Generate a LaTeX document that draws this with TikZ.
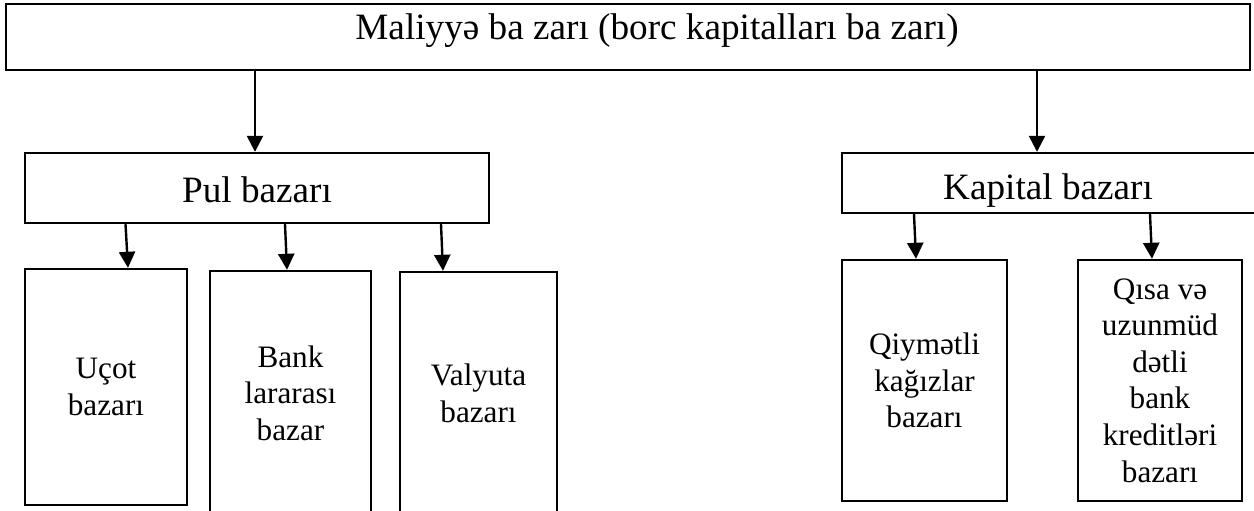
\documentclass[tikz,border=0pt]{standalone}
\usepackage{fontspec}
\setmainfont{Liberation Serif}
\usetikzlibrary{arrows.meta}
\begin{document}
\begin{tikzpicture}[x=0.5pt,y=-0.5pt,
  box/.style={draw, line width=1.2pt, inner sep=0pt},
  headtxt/.style={anchor=base, inner sep=0pt, font=\fontsize{18.6}{22}\selectfont},
  celltxt/.style={align=center, font=\fontsize{15.6}{18.3}\selectfont},
  arr/.style={line width=1.2pt, -{Triangle[length=8pt,width=8pt]}}]
\useasboundingbox (0,0) rectangle (1254,510);
\clip (0,0) rectangle (1254,510);
% boxes
\node[box, minimum width=622pt, minimum height=33pt] (top) at (628,37) {};
\node[headtxt] (toptxt) at (657,39) {Maliyyə ba zarı (borc kapitalları ba zarı)};
\node[box, minimum width=232pt, minimum height=35pt] (pul) at (257,188) {};
\node[headtxt] (pultxt) at (257,202) {Pul bazarı};
\node[box, minimum width=208pt, minimum height=30pt] (kap) at (1050,183) {};
\node[headtxt] (kaptxt) at (1048,199) {Kapital bazarı};
\node[box, celltxt, minimum width=81pt, minimum height=118pt] (ucot) at (106,387) {Uçot\\bazarı};
\node[box, celltxt, minimum width=80.5pt, minimum height=122pt] (bank) at (290.5,393) {Bank\\lararası\\bazar};
\node[box, celltxt, minimum width=78.5pt, minimum height=121.5pt] (val) at (478.5,393.5) {Valyuta\\bazarı};
\node[box, celltxt, minimum width=82.5pt, minimum height=120.5pt] (qiy) at (924.5,380.5) {Qiymətli\\kağızlar\\bazarı};
\node[box, celltxt, minimum width=82pt, minimum height=120.5pt] (qisa) at (1160,380.5) {Qısa və\\uzunmüd\\dətli\\bank\\kreditləri\\bazarı};
% arrow x positions (slightly slanted, as drawn in the original)
\coordinate (xa) at (255,0);
\coordinate (xb) at (1037,0);
\coordinate (xc1) at (125.5,0);
\coordinate (xc2) at (128,0);
\coordinate (xd1) at (285,0);
\coordinate (xd2) at (287,0);
\coordinate (xe1) at (441,0);
\coordinate (xe2) at (443,0);
\coordinate (xf1) at (914,0);
\coordinate (xf2) at (916,0);
\coordinate (xg1) at (1150,0);
\coordinate (xg2) at (1152,0);
% connectors
\draw[arr] (top.south -| xa) -- (pul.north -| xa);
\draw[arr] (top.south -| xb) -- (kap.north -| xb);
\draw[arr] (pul.south -| xc1) -- (ucot.north -| xc2);
\draw[arr] (pul.south -| xd1) -- (bank.north -| xd2);
\draw[arr] (pul.south -| xe1) -- (val.north -| xe2);
\draw[arr] (kap.south -| xf1) -- (qiy.north -| xf2);
\draw[arr] (kap.south -| xg1) -- (qisa.north -| xg2);
\end{tikzpicture}
\end{document}
